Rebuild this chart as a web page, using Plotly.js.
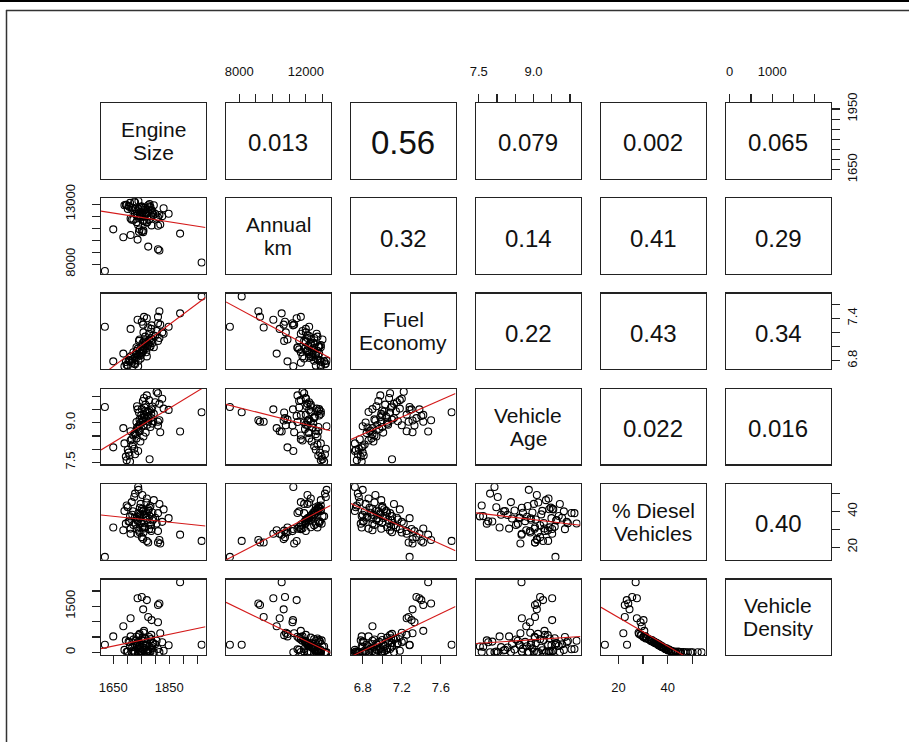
<!DOCTYPE html>
<html><head><meta charset="utf-8">
<script src="https://cdn.plot.ly/plotly-3.0.1.min.js"></script>
<style>html,body{margin:0;padding:0;background:#fff;} #chart{width:909px;height:742px;}</style>
</head><body><div id="chart"></div>
<script>
// ---------------- data ----------------
const varNamesTop = ['Engine','Annual','Fuel','Vehicle','% Diesel','Vehicle'];
const varNamesBottom = ['Size','km','Economy','Age','Vehicles','Density'];

const engineSize = [1620,1966,
 1889,1752,1737,1770,1810,1815,1757,1775,1712,1787,1810,1686,1818,1650,1760,
 1745,1760,1730,1775,1790,1720,1705,1755,1768,1740,1800,1712,1780,1735,1750,1825,1698,1765,1785,1725,1758,1742,1772,1810,1695,1748,1762,1733,1795,1718,1778,1752,1738,1805,1728,1766,1790,1710,1756,1744,1783,1722,1770,1735,1848,1702,1760,1747,1815,1733,1776,1716,1764,1740,1793,1727,1754,1786,1708,1770,1745,1830,1690,1758,1739,1780];
const annualKm = [7440,8150,
 10550,10750,10050,11450,9250,9150,10670,9470,10430,11230,11200,10250,11300,10900,11700,
 12100,12500,12600,12900,12300,12700,12850,12300,12200,12600,12200,11800,12800,12400,12800,12000,12900,12300,12500,13200,12700,10700,12000,11900,12950,11900,11600,12200,12900,12500,11700,12800,11950,11800,13150,12150,12450,13100,11600,10900,12750,11700,12300,12050,12200,12600,12000,12350,12100,11500,12550,11700,12700,13250,12100,12200,12100,12000,12750,11500,12750,12650,12900,10800,11250,13000];
const fuelEconomy = [7.28,7.71,
 7.47,7.35,7.38,7.40,7.42,7.50,7.31,7.27,7.25,7.30,7.33,6.90,7.31,6.79,7.42,
 6.95,6.98,6.90,7.02,7.10,6.82,6.80,7.05,6.92,6.88,7.15,6.86,7.00,6.85,7.00,7.20,6.74,7.03,7.12,6.76,6.94,7.08,7.06,7.08,6.78,6.83,7.09,6.89,6.99,6.80,7.18,6.90,6.97,7.22,6.75,7.01,7.05,6.79,6.96,7.10,7.00,6.92,6.86,6.94,7.28,6.73,7.07,6.91,7.12,6.99,7.04,6.77,7.14,6.80,7.16,6.84,6.93,7.25,6.81,6.98,6.87,7.18,6.72,7.20,6.72,7.10];
const vehicleAge = [9.60,9.40,
 8.67,9.18,9.51,9.26,9.04,9.10,9.09,9.04,8.68,9.51,8.90,8.80,8.64,8.07,9.30,
 8.92,9.21,8.57,9.43,9.62,8.18,7.87,9.04,9.13,8.71,9.78,8.33,9.47,8.82,9.28,9.91,7.58,9.69,9.18,8.02,8.48,9.39,8.93,10.12,7.72,9.01,9.58,8.41,9.34,8.11,9.86,9.52,8.77,10.18,7.81,8.63,8.97,7.53,9.83,9.12,8.84,8.52,9.41,9.63,9.49,7.98,9.94,8.29,9.72,9.03,9.24,8.38,9.44,8.87,9.06,8.61,9.09,9.31,7.76,10.04,8.68,9.54,8.22,8.91,7.93,7.62];
const dieselPct = [14.5,23.5,
 27.0,25.6,27.5,23.4,22.6,24.0,24.5,22.6,27.5,30.2,29.0,29.5,22.0,31.0,30.5,
 36.2,38.4,33.1,41.3,35.0,40.2,34.4,31.2,45.1,39.3,36.5,30.4,42.2,37.1,33.6,34.2,43.4,37.5,32.3,48.2,40.6,29.3,35.4,39.1,33.2,44.3,31.5,36.1,46.4,38.2,30.1,41.5,34.6,33.3,50.1,36.4,39.5,37.3,40.1,28.4,43.1,32.5,47.3,35.2,36.3,42.4,33.4,38.1,44.2,30.3,40.4,45.3,31.1,52.2,35.5,36.6,49.3,29.1,34.5,39.2,42.1,41.2,40.3,28.2,53.8,37.4];
const vehicleDensity = [250,250,
 2280,1800,1760,1700,1540,1590,1400,1150,1110,1050,980,850,620,520,700,
 250,150,380,40,300,60,350,480,10,120,260,520,20,200,400,330,15,210,430,5,90,560,310,110,390,25,460,270,8,170,500,45,340,380,5,240,130,190,80,600,15,420,5,290,230,30,370,160,12,510,70,10,450,5,300,250,5,570,330,100,25,50,80,640,5,180];

// upper-panel correlation labels, row by row
const corrValues = ['0.013','0.56','0.079','0.002','0.065','0.32','0.14','0.41','0.29','0.22','0.43','0.34','0.022','0.016','0.40'];

// tick values and labels
const engineTicks = [1650,1700,1750,1800,1850,1900,1950];
const engineBottomLabels = ['1650','','','','1850','',''];
const engineRightLabels = ['1650','','','','','','1950'];
const annualTicks = [8000,9000,10000,11000,12000,13000];
const annualTopLabels = ['8000','','','','12000',''];
const annualLeftLabels = ['8000','','','','','13000'];
const fuelTicks = [6.8,7.0,7.2,7.4,7.6];
const fuelBottomLabels = ['6.8','','7.2','','7.6'];
const fuelRightLabels = ['6.8','','','7.4',''];
const ageTicks = [7.5,8.0,8.5,9.0,9.5,10.0];
const ageTopLabels = ['7.5','','','9.0','',''];
const ageLeftLabels = ['7.5','','','9.0','',''];
const dieselTicks = [20,30,40,50];
const dieselBottomLabels = ['20','','40',''];
const dieselRightLabels = ['20','','40',''];
const densityTicks = [0,500,1000,1500,2000];
const densityTopLabels = ['0','','1000','',''];
const densityLeftLabels = ['0','','','1500',''];

// ---------------- build ----------------
const W = 909, H = 742;
const L0 = 101, PX = 125, PW = 104.5, T0 = 103, PY = 95.3, PH = 75.5;
const FONT = 'Liberation Sans, Arial, sans-serif';

const vars = [engineSize, annualKm, fuelEconomy, vehicleAge, dieselPct, vehicleDensity];
const tickVals = [engineTicks, annualTicks, fuelTicks, ageTicks, dieselTicks, densityTicks];
const xLabels = [engineBottomLabels, annualTopLabels, fuelBottomLabels, ageTopLabels, dieselBottomLabels, densityTopLabels];
const yLabels = [engineRightLabels, annualLeftLabels, fuelRightLabels, ageLeftLabels, dieselRightLabels, densityLeftLabels];

function padRange(a){ const mn = Math.min(...a), mx = Math.max(...a), d = mx - mn; return [mn - 0.04*d, mx + 0.04*d]; }
const ranges = vars.map(padRange);

function fit(x, y){
  const n = x.length; let mx=0,my=0; for(let i=0;i<n;i++){mx+=x[i];my+=y[i];} mx/=n; my/=n;
  let sxy=0,sxx=0; for(let i=0;i<n;i++){sxy+=(x[i]-mx)*(y[i]-my); sxx+=(x[i]-mx)*(x[i]-mx);}
  const b = sxy/sxx; return [my - b*mx, b];
}

const layout = {
  width: W, height: H, margin: {l:0,r:0,t:0,b:0},
  paper_bgcolor: '#fff', plot_bgcolor: '#fff', showlegend: false,
  font: {family: FONT, color: '#000', size: 13},
  annotations: [], shapes: []
};
const tickFont = {size: 13, family: FONT, color: '#111'};
const traces = [];
const lines = [];
let ci = 0;
for (let r = 0; r < 6; r++) {
  for (let c = 0; c < 6; c++) {
    const k = r*6 + c + 1;
    const xs = k === 1 ? '' : String(k);
    const left = L0 + PX*c, top = T0 + PY*r;
    const xa = {
      domain: [left/W, (left+PW)/W], range: ranges[c], anchor: 'y'+xs,
      showline: true, mirror: true, linecolor: '#222', linewidth: 1.2,
      showgrid: false, zeroline: false, fixedrange: true,
      ticks: '', showticklabels: false
    };
    const ya = {
      domain: [1-(top+PH)/H, 1-top/H], range: ranges[r], anchor: 'x'+xs,
      showline: true, mirror: true, linecolor: '#222', linewidth: 1.2,
      showgrid: false, zeroline: false, fixedrange: true,
      ticks: '', showticklabels: false
    };
    if ((r === 0 && c % 2 === 1) || (r === 5 && c % 2 === 0)) {
      Object.assign(xa, {side: r === 0 ? 'top' : 'bottom', ticks: 'outside', ticklen: 8, tickwidth: 1.2, tickcolor: '#222',
        tickmode: 'array', tickvals: tickVals[c], ticktext: xLabels[c], showticklabels: true,
        tickfont: tickFont, ticklabelstandoff: r === 0 ? 13 : 12});
    }
    if ((c === 0 && r % 2 === 1) || (c === 5 && r % 2 === 0)) {
      Object.assign(ya, {side: c === 0 ? 'left' : 'right', ticks: 'outside', ticklen: 8, tickwidth: 1.2, tickcolor: '#222',
        tickmode: 'array', tickvals: tickVals[r], ticktext: yLabels[r], showticklabels: true, tickangle: -90,
        tickfont: tickFont, ticklabelstandoff: c === 0 ? 12 : 2});
    }
    layout['xaxis'+xs] = xa;
    layout['yaxis'+xs] = ya;

    if (r === c) {
      traces.push({type: 'scatter', mode: 'markers', x: [null], y: [null], xaxis: 'x'+xs, yaxis: 'y'+xs, hoverinfo: 'skip'});
      [[varNamesTop[r], 11.5], [varNamesBottom[r], -11.5]].forEach(([t, sh]) => {
        layout.annotations.push({xref: 'x'+xs+' domain', yref: 'y'+xs+' domain', x: 0.5, y: 0.5, yshift: sh,
          text: t, showarrow: false, font: {size: 21, family: FONT, color: '#111'}, align: 'center'});
      });
    } else if (c > r) {
      traces.push({type: 'scatter', mode: 'markers', x: [null], y: [null], xaxis: 'x'+xs, yaxis: 'y'+xs, hoverinfo: 'skip'});
      const t = corrValues[ci++];
      layout.annotations.push({xref: 'x'+xs+' domain', yref: 'y'+xs+' domain', x: 0.5, y: 0.5, yshift: -2,
        text: t, showarrow: false, font: {size: parseFloat(t) >= 0.5 ? 33 : 24, family: FONT, color: '#111'}});
    } else {
      traces.push({type: 'scatter', mode: 'markers', x: vars[c], y: vars[r], xaxis: 'x'+xs, yaxis: 'y'+xs,
        marker: {symbol: 'circle-open', size: 7, color: '#000', line: {width: 1.1, color: '#000'}},
        hoverinfo: 'skip', cliponaxis: true});
      const [a, b] = fit(vars[c], vars[r]);
      const xr = ranges[c];
      lines.push({type: 'scatter', mode: 'lines', x: [xr[0], xr[1]], y: [a + b*xr[0], a + b*xr[1]],
        xaxis: 'x'+xs, yaxis: 'y'+xs, line: {color: '#d41a1a', width: 1.1}, hoverinfo: 'skip'});
    }
  }
}
// outer picture frame
layout.shapes.push({type: 'line', xref: 'paper', yref: 'paper', x0: 0, x1: 1, y0: 1-1/H, y1: 1-1/H, line: {color: '#000', width: 2}});
layout.shapes.push({type: 'line', xref: 'paper', yref: 'paper', x0: 6/W, x1: 1, y0: 1-10.5/H, y1: 1-10.5/H, line: {color: '#333', width: 1.5}});
layout.shapes.push({type: 'line', xref: 'paper', yref: 'paper', x0: 6.5/W, x1: 6.5/W, y0: 0, y1: 1-10/H, line: {color: '#333', width: 1.5}});

Plotly.newPlot('chart', traces.concat(lines), layout, {staticPlot: true, displayModeBar: false});
</script></body></html>
